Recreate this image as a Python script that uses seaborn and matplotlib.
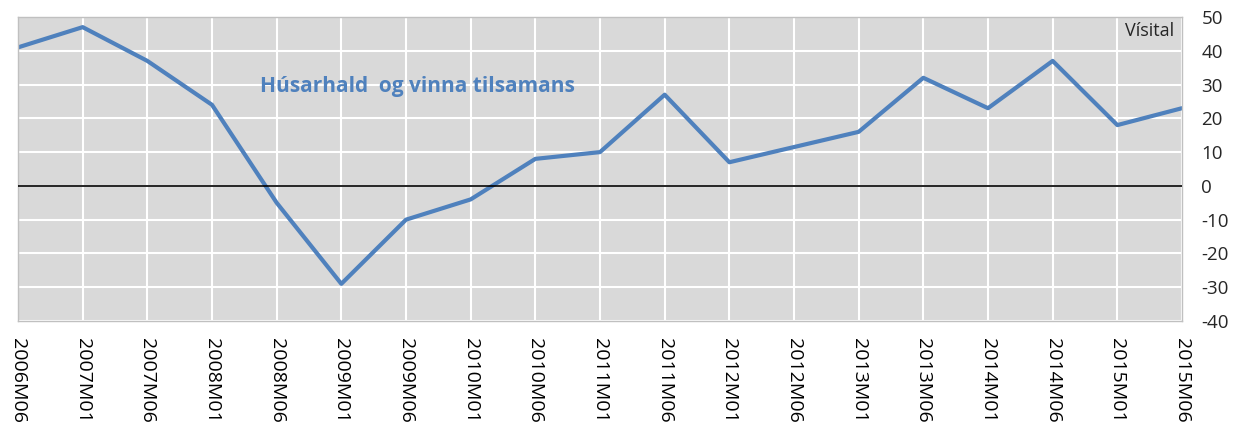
# Vísital: Húsarhald og vinna tilsamans, 2006M06 - 2015M06
import pandas as pd
import seaborn as sns
import matplotlib.pyplot as plt

periods = ['2006M06', '2007M01', '2007M06', '2008M01', '2008M06', '2009M01',
           '2009M06', '2010M01', '2010M06', '2011M01', '2011M06', '2012M01',
           '2012M06', '2013M01', '2013M06', '2014M01', '2014M06', '2015M01',
           '2015M06']
visital = [41, 47, 37, 24, -5, -29, -10, -4, 8, 10, 27, 7, 11.5, 16, 32, 23, 37, 18, 23]
yticks = list(range(-40, 51, 10))

df = pd.DataFrame({'period': periods, 'visital': visital})

sns.set_style('whitegrid')
plt.rcParams['font.family'] = ['Open Sans', 'DejaVu Sans']
plt.rcParams['axes.unicode_minus'] = False

fig = plt.figure(figsize=(12.44, 4.37), dpi=100)
ax = fig.add_axes([18 / 1244, 116 / 437, 1164 / 1244, 304 / 437])
ax.set_facecolor('#d9d9d9')

sns.lineplot(data=df, x='period', y='visital', sort=False, color='#4f81bd',
             linewidth=3, ax=ax)
ax.axhline(0, color='black', linewidth=1.2, zorder=3)

ax.set_xlim(0, len(periods) - 1)
ax.set_ylim(-40, 50)
ax.set_yticks(yticks)
ax.set_xticks(range(len(periods)))
ax.set_xticklabels(periods, rotation=-90, fontsize=14)
ax.yaxis.tick_right()
ax.tick_params(axis='y', labelsize=13.5, length=0, pad=14, colors='#262626')
ax.tick_params(axis='x', length=0, pad=12, colors='black')
ax.grid(True, color='white', linewidth=1.5)
ax.set_xlabel('')
ax.set_ylabel('')
for s in ax.spines.values():
    s.set_color('#c0c0c0')
    s.set_linewidth(1)

ax.text(0.208, 0.77, 'Húsarhald  og vinna tilsamans', transform=ax.transAxes,
        color='#4f81bd', fontsize=15, fontweight='bold', va='center')
ax.text(0.993, 0.985, 'Vísital', transform=ax.transAxes, color='#262626',
        fontsize=13, ha='right', va='top')

fig.savefig('out.png', dpi=100)
